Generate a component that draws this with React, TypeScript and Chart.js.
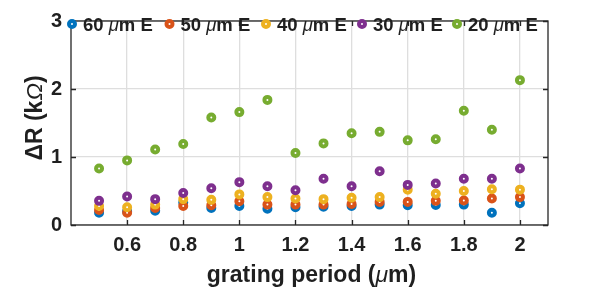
import React, { useEffect, useRef } from "react";
import { Chart, registerables } from "chart.js";
Chart.register(...registerables);

const periods = [0.5, 0.6, 0.7, 0.8, 0.9, 1.0, 1.1, 1.2, 1.3, 1.4, 1.5, 1.6, 1.7, 1.8, 1.9, 2.0];
const seriesNames = ["60", "50", "40", "30", "20"];
const e60 = [0.18, 0.2, 0.21, 0.33, 0.25, 0.28, 0.24, 0.26, 0.27, 0.28, 0.3, 0.29, 0.295, 0.3, 0.18, 0.32];
const e50 = [0.22, 0.18, 0.25, 0.28, 0.29, 0.35, 0.3, 0.3, 0.3, 0.31, 0.34, 0.34, 0.355, 0.36, 0.39, 0.41];
const e40 = [0.28, 0.26, 0.3, 0.38, 0.37, 0.45, 0.41, 0.39, 0.38, 0.4, 0.41, 0.52, 0.46, 0.5, 0.525, 0.52];
const e30 = [0.355, 0.42, 0.38, 0.47, 0.54, 0.63, 0.57, 0.51, 0.68, 0.57, 0.79, 0.59, 0.61, 0.68, 0.68, 0.83];
const e20 = [0.83, 0.95, 1.11, 1.19, 1.58, 1.66, 1.84, 1.06, 1.2, 1.35, 1.37, 1.245, 1.26, 1.68, 1.4, 2.13];
const seriesValues = [e60, e50, e40, e30, e20];
const colors = ["#0072BD", "#D95319", "#EDB120", "#7E2F8E", "#77AC30"];
const xTicks = [0.6, 0.8, 1, 1.2, 1.4, 1.6, 1.8, 2];
const yTicks = [0, 1, 2, 3];

const FAM = '"Liberation Sans", Arial, Helvetica, sans-serif';
const BOLD = (s: number) => `bold ${s}px ${FAM}`;
const ITAL = (s: number) => `italic ${s}px ${FAM}`;
const INK = "#1f1f1f";

type Seg = { t: string; f: string };

function richWidth(ctx: CanvasRenderingContext2D, segs: Seg[]) {
  let w = 0;
  for (const s of segs) {
    ctx.font = s.f;
    w += ctx.measureText(s.t).width;
  }
  return w;
}

function drawRich(
  ctx: CanvasRenderingContext2D,
  segs: Seg[],
  x: number,
  y: number,
  align: "left" | "center",
  baseline: CanvasTextBaseline = "middle"
) {
  const w = richWidth(ctx, segs);
  let cx = align === "center" ? x - w / 2 : x;
  ctx.textAlign = "left";
  ctx.textBaseline = baseline;
  for (const s of segs) {
    ctx.font = s.f;
    ctx.fillText(s.t, cx, y);
    cx += ctx.measureText(s.t).width;
  }
}

const overlay = {
  id: "overlay",
  afterDraw(chart: any) {
    const ctx: CanvasRenderingContext2D = chart.ctx;
    const a = chart.chartArea;
    const xs = chart.scales.x;
    const ys = chart.scales.y;
    ctx.save();
    // frame
    ctx.strokeStyle = "#262626";
    ctx.lineWidth = 1.3;
    ctx.strokeRect(a.left, a.top, a.right - a.left, a.bottom - a.top);
    // inward ticks
    ctx.beginPath();
    for (const v of xTicks) {
      const px = Math.round(xs.getPixelForValue(v)) + 0.5;
      ctx.moveTo(px, a.bottom);
      ctx.lineTo(px, a.bottom - 5);
      ctx.moveTo(px, a.top);
      ctx.lineTo(px, a.top + 5);
    }
    for (const v of yTicks) {
      const py = Math.round(ys.getPixelForValue(v)) + 0.5;
      ctx.moveTo(a.left, py);
      ctx.lineTo(a.left + 5, py);
      ctx.moveTo(a.right, py);
      ctx.lineTo(a.right - 5, py);
    }
    ctx.stroke();

    // legend
    const lx = [72, 169.5, 266, 362, 457];
    const ly = 24;
    seriesNames.forEach((n, i) => {
      ctx.beginPath();
      ctx.arc(lx[i], ly, 3, 0, Math.PI * 2);
      ctx.fillStyle = "#ffffff";
      ctx.fill();
      ctx.lineWidth = 4;
      ctx.strokeStyle = colors[i];
      ctx.stroke();
      ctx.fillStyle = INK;
      drawRich(
        ctx,
        [
          { t: n + " ", f: BOLD(18.5) },
          { t: "\u03bc", f: ITAL(18.5) },
          { t: "m E", f: BOLD(18.5) },
        ],
        lx[i] + 11,
        ly + 6.5,
        "left",
        "alphabetic"
      );
    });

    // x title
    ctx.fillStyle = INK;
    drawRich(
      ctx,
      [
        { t: "grating period (", f: BOLD(23) },
        { t: "\u03bc", f: ITAL(23) },
        { t: "m)", f: BOLD(23) },
      ],
      (a.left + a.right) / 2 + 2,
      281.5,
      "center",
      "alphabetic"
    );
    // y title
    ctx.translate(42, 118);
    ctx.rotate(-Math.PI / 2);
    drawRich(
      ctx,
      [
        { t: "\u0394R (k", f: BOLD(23) },
        { t: "\u03a9", f: ITAL(23) },
        { t: ")", f: BOLD(23) },
      ],
      0,
      0,
      "center",
      "alphabetic"
    );
    ctx.restore();
  },
};

export default function App() {
  const ref = useRef<HTMLCanvasElement>(null);
  useEffect(() => {
    if (!ref.current) return;
    const chart = new Chart(ref.current, {
      type: "scatter",
      data: {
        datasets: seriesValues.map((vals, i) => ({
          label: seriesNames[i],
          data: periods.map((p, j) => ({ x: p, y: vals[j] })),
          pointRadius: 3,
          pointBorderWidth: 4,
          pointBackgroundColor: "#ffffff",
          pointBorderColor: colors[i],
          showLine: false,
          order: 5 - i,
        })),
      },
      options: {
        responsive: false,
        animation: false,
        events: [],
        layout: { padding: { left: 0, top: 8, right: 50, bottom: 0 } },
        plugins: { legend: { display: false }, tooltip: { enabled: false }, title: { display: false } },
        scales: {
          x: {
            type: "linear",
            min: 0.4,
            max: 2.1,
            afterBuildTicks: (s: any) => {
              s.ticks = xTicks.map((v) => ({ value: v }));
            },
            afterFit: (s: any) => {
              s.height = 63;
            },
            ticks: {
              font: { family: FAM, size: 20, weight: "bold" },
              color: INK,
              padding: 8,
              maxRotation: 0,
              autoSkip: false,
              callback: (v: any) => String(Number(v)),
            },
            grid: { color: "#dedede", lineWidth: 1.3, drawTicks: false },
            border: { display: false },
          },
          y: {
            type: "linear",
            min: 0,
            max: 3,
            afterBuildTicks: (s: any) => {
              s.ticks = yTicks.map((v) => ({ value: v }));
            },
            afterFit: (s: any) => {
              s.width = 71;
            },
            ticks: {
              font: { family: FAM, size: 20, weight: "bold" },
              color: INK,
              padding: 9,
              callback: (v: any) => String(Number(v)),
            },
            grid: { color: "#dedede", lineWidth: 1.3, drawTicks: false },
            border: { display: false },
          },
        },
      },
      plugins: [overlay],
    } as any);
    return () => chart.destroy();
  }, []);
  return (
    <div style={{ position: "fixed", left: 0, top: 0, width: 598, height: 288, background: "#fff" }}>
      <canvas ref={ref} width={598} height={288} style={{ display: "block" }} />
    </div>
  );
}
